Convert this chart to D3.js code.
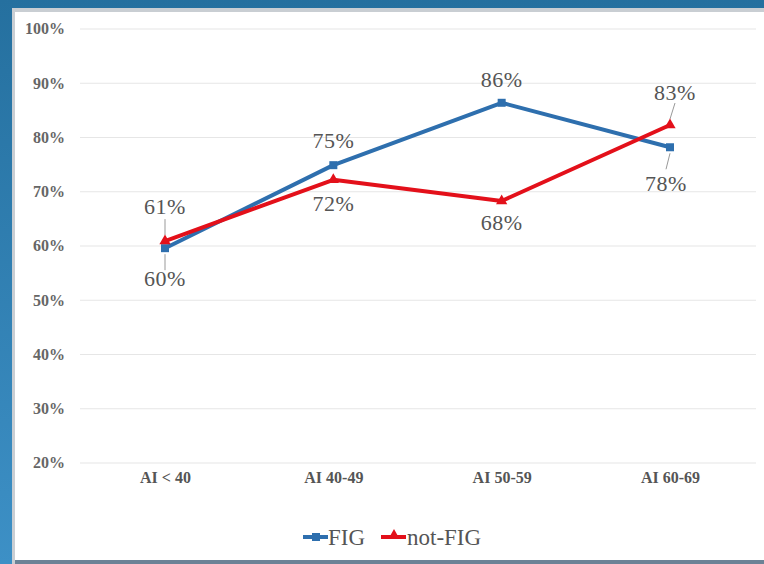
<!DOCTYPE html>
<html><head><meta charset="utf-8">
<script src="https://cdn.jsdelivr.net/npm/d3@7"></script>
<style>body{margin:0;padding:0;background:#2a74a2;overflow:hidden}</style>
</head><body>
<script>
const categories = ["AI < 40", "AI 40-49", "AI 50-59", "AI 60-69"];
const figValues = [59.6, 74.9, 86.4, 78.2];
const notFigValues = [60.9, 72.2, 68.3, 82.3];
const figLabels = ["60%", "75%", "86%", "78%"];
const notFigLabels = ["61%", "72%", "68%", "83%"];
const yTicks = [20, 30, 40, 50, 60, 70, 80, 90, 100];
const seriesNames = ["FIG", "not-FIG"];

const W = 764, H = 564;
const svg = d3.select("body").append("svg").attr("width", W).attr("height", H);

// background
const bg = svg.append("linearGradient").attr("id","bgl").attr("x1",0).attr("x2",0).attr("y1",0).attr("y2",1);
bg.append("stop").attr("offset",0).attr("stop-color","#25709f");
bg.append("stop").attr("offset",1).attr("stop-color","#3d90c6");
svg.append("rect").attr("width",W).attr("height",H).attr("fill","url(#bgl)");
svg.append("rect").attr("x",12).attr("y",8).attr("width",W-12).attr("height",H-8).attr("fill","#c9ced3");
svg.append("rect").attr("x",15).attr("y",12).attr("width",W-15).attr("height",H-16).attr("fill","#ffffff");
svg.append("rect").attr("x",15).attr("y",H-4).attr("width",W-15).attr("height",4).attr("fill","#6c8296");

const x = d3.scalePoint().domain(categories).range([165, 670]);
const y = d3.scaleLinear().domain([20, 100]).range([463, 29]);

const font = "'Liberation Serif','DejaVu Serif',serif";

// grid
svg.append("g").selectAll("line").data(yTicks).join("line")
  .attr("x1", 80).attr("x2", 756)
  .attr("y1", d => y(d)).attr("y2", d => y(d))
  .attr("stroke", "#e6e6e6").attr("stroke-width", 1.2);

// y axis labels
const yAxis = d3.axisLeft(y).tickValues(yTicks).tickFormat(d => d + "%").tickSize(0).tickPadding(0);
const ya = svg.append("g").attr("transform", "translate(65,0)").call(yAxis);
ya.select(".domain").remove();
ya.selectAll("text").attr("font-family", font).attr("font-size", 16).attr("font-weight", "bold").attr("fill", "#666").attr("dy","0.3em");

// x axis labels
const xAxis = d3.axisBottom(x).tickSize(0).tickPadding(0);
const xa = svg.append("g").attr("transform", "translate(0,478)").call(xAxis);
xa.select(".domain").remove();
xa.selectAll("text").attr("font-family", font).attr("font-size", 16).attr("font-weight", "bold").attr("fill", "#555").attr("dy","0.3em");

const line = d3.line().x((d,i) => x(categories[i])).y(d => y(d));

// leader lines
const leaders = [
  [categories[0], figValues[0], 1, 16],
  [categories[0], notFigValues[0], -1, 16],
  [categories[3], notFigValues[3], -1, 16],
  [categories[3], figValues[3], 1, 16]
];
svg.append("g").selectAll("line").data(leaders).join("line")
  .attr("x1", d => x(d[0])).attr("y1", d => y(d[1]) + d[2]*6)
  .attr("x2", d => x(d[0]) + (d[0] === categories[3] ? (d[2] > 0 ? -4 : 5) : 0)).attr("y2", d => y(d[1]) + d[2]*(6 + d[3]))
  .attr("stroke", "#999").attr("stroke-width", 1);

// FIG series
svg.append("path").datum(figValues).attr("d", line).attr("fill", "none")
  .attr("stroke", "#2e6fae").attr("stroke-width", 4).attr("stroke-linejoin","round");
svg.append("g").selectAll("rect").data(figValues).join("rect")
  .attr("x", (d,i) => x(categories[i]) - 4).attr("y", d => y(d) - 4)
  .attr("width", 8).attr("height", 8).attr("fill", "#2e6fae");

// not-FIG series
svg.append("path").datum(notFigValues).attr("d", line).attr("fill", "none")
  .attr("stroke", "#e3101a").attr("stroke-width", 4).attr("stroke-linejoin","round");
const tri = d3.symbol().type(d3.symbolTriangle).size(55);
svg.append("g").selectAll("path").data(notFigValues).join("path")
  .attr("transform", (d,i) => `translate(${x(categories[i])},${y(d)})`)
  .attr("d", tri).attr("fill", "#e3101a");

// data labels
const figOff = [30, -25, -23, 36];
const nfOff = [-35, 23, 21, -33];
const lab = svg.append("g").attr("font-family", font).attr("font-size", 22).attr("fill", "#555")
  .attr("text-anchor","middle").attr("letter-spacing", 0.5);
figValues.forEach((v,i) => {
  lab.append("text").attr("x", x(categories[i]) + (i===3 ? -4 : 0)).attr("y", y(v) + figOff[i]).attr("dy","0.35em").text(figLabels[i]);
});
notFigValues.forEach((v,i) => {
  lab.append("text").attr("x", x(categories[i]) + (i===3 ? 5 : 0)).attr("y", y(v) + nfOff[i]).attr("dy","0.35em").text(notFigLabels[i]);
});

// legend
const lg = svg.append("g").attr("font-family", font).attr("font-size", 23).attr("fill", "#555");
const legendItems = [
  {name: seriesNames[0], color: "#2e6fae", x: 303, marker: "rect", tx: 328},
  {name: seriesNames[1], color: "#e3101a", x: 381, marker: "tri", tx: 407}
];
legendItems.forEach(it => {
  lg.append("line").attr("x1", it.x).attr("x2", it.x + 25).attr("y1", 537).attr("y2", 537)
    .attr("stroke", it.color).attr("stroke-width", 4);
  if (it.marker === "rect") {
    lg.append("rect").attr("x", it.x + 9).attr("y", 533).attr("width", 8).attr("height", 8).attr("fill", it.color);
  } else {
    lg.append("path").attr("transform", `translate(${it.x+13},535)`).attr("d", d3.symbol().type(d3.symbolTriangle).size(45)).attr("fill", it.color);
  }
  lg.append("text").attr("x", it.tx).attr("y", 537).attr("dy","0.35em").text(it.name);
});
</script>
</body></html>
